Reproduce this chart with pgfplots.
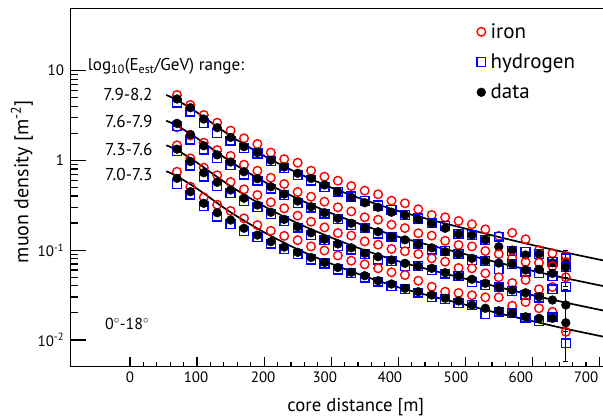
\documentclass[border=0pt]{standalone}
\usepackage{pgfplots}
\usepackage{pgfplotstable}
\pgfplotsset{compat=1.18}
\usepackage{fontspec}
\setmainfont{PT Sans}
\definecolor{rootred}{RGB}{255,0,0}
\definecolor{rootblue}{RGB}{0,0,255}

% r: core distance [m]; fe: iron; h: hydrogen; d: data; ed: data error
\pgfplotstableread{
r fe h d ed
70 5.34 4.38 4.82 0
90 4.13 3.48 3.85 0
110 3.20 2.58 2.88 0
130 2.62 2.00 2.31 0
150 2.14 1.65 1.80 0
170 1.76 1.36 1.42 0
190 1.52 1.19 1.22 0
210 1.22 0.975 1.00 0
230 1.03 0.815 0.842 0
250 0.940 0.681 0.717 0
270 0.766 0.596 0.627 0
290 0.657 0.504 0.531 0
310 0.593 0.447 0.449 0
330 0.517 0.395 0.387 0
350 0.459 0.352 0.337 0
370 0.418 0.314 0.300 0
390 0.355 0.280 0.264 0
410 0.332 0.246 0.246 0
430 0.285 0.225 0.220 0
450 0.246 0.199 0.199 0
470 0.232 0.186 0.175 0
490 0.211 0.151 0.151 0
510 0.194 0.147 0.147 0
530 0.170 0.130 0.130 0
550 0.144 0.141 0.109 0
570 0.156 0.0977 0.100 0
590 0.132 0.0960 0.0882 0
610 0.100 0.0905 0.0905 0
630 0.0921 0.0743 0.0724 0
650 0.0860 0.0810 0.0743 0.025
}\gA
\pgfplotstableread{
r fe h d ed
70 2.33 2.39 2.58 0
90 1.89 1.70 1.94 0
110 1.57 1.31 1.45 0
130 1.30 1.06 1.15 0
150 1.12 0.886 0.957 0
170 0.893 0.691 0.746 0
190 0.766 0.593 0.624 0
210 0.639 0.482 0.507 0
230 0.545 0.411 0.421 0
250 0.444 0.335 0.352 0
270 0.393 0.297 0.304 0
290 0.346 0.254 0.261 0
310 0.300 0.220 0.226 0
330 0.270 0.189 0.199 0
350 0.232 0.175 0.175 0
370 0.218 0.152 0.160 0
390 0.192 0.141 0.141 0
410 0.176 0.120 0.130 0
430 0.154 0.116 0.116 0
450 0.145 0.101 0.106 0
470 0.127 0.0985 0.0960 0
490 0.114 0.0905 0.0905 0
510 0.110 0.0770 0.0810 0
530 0.0977 0.0756 0.0756 0
550 0.0905 0.0616 0.0718 0
570 0.0817 0.0700 0.0700 0
590 0.0737 0.0575 0.0600 0
610 0.0724 0.0551 0.0611 0
630 0.0665 0.0515 0.0551 0
650 0.0737 0.0644 0.0644 0.025
}\gB
\pgfplotstableread{
r fe h d ed
70 1.47 1.26 1.33 0
90 1.05 0.875 0.970 0
110 0.827 0.657 0.728 0
130 0.681 0.513 0.569 0
150 0.573 0.432 0.467 0
170 0.475 0.350 0.378 0
190 0.411 0.302 0.318 0
210 0.341 0.250 0.264 0
230 0.292 0.209 0.220 0
250 0.242 0.178 0.182 0
270 0.207 0.148 0.156 0
290 0.179 0.129 0.132 0
310 0.155 0.111 0.117 0
330 0.145 0.101 0.106 0
350 0.125 0.0898 0.0921 0
370 0.115 0.0782 0.0844 0
390 0.103 0.0756 0.0776 0
410 0.0970 0.0660 0.0713 0
430 0.0905 0.0665 0.0665 0
450 0.0810 0.0596 0.0627 0
470 0.0743 0.0546 0.0560 0
490 0.0632 0.0515 0.0515 0
510 0.0627 0.0438 0.0473 0
530 0.0551 0.0406 0.0427 0
550 0.0498 0.0385 0.0385 0
570 0.0430 0.0350 0.0359 0
590 0.0465 0.0319 0.0335 0
610 0.0366 0.0295 0.0303 0
630 0.0388 0.0366 0.0278 0
650 0.0498 0.0391 0.0245 0.012
}\gC
\pgfplotstableread{
r fe h d ed
70 0.746 0.547 0.630 0
90 0.508 0.414 0.447 0
110 0.387 0.308 0.332 0
130 0.320 0.235 0.261 0
150 0.273 0.195 0.216 0
170 0.226 0.162 0.175 0
190 0.190 0.140 0.147 0
210 0.164 0.118 0.124 0
230 0.144 0.103 0.108 0
250 0.129 0.0898 0.0945 0
270 0.110 0.0786 0.0827 0
290 0.0990 0.0709 0.0728 0
310 0.0871 0.0608 0.0640 0
330 0.0762 0.0551 0.0566 0
350 0.0695 0.0493 0.0519 0
370 0.0627 0.0445 0.0456 0
390 0.0566 0.0398 0.0419 0
410 0.0528 0.0366 0.0375 0
430 0.0456 0.0335 0.0344 0
450 0.0391 0.0300 0.0316 0
470 0.0344 0.0283 0.0291 0
490 0.0333 0.0258 0.0271 0
510 0.0314 0.0245 0.0245 0
530 0.0298 0.0193 0.0225 0
550 0.0298 0.0206 0.0211 0
570 0.0240 0.0198 0.0198 0
590 0.0264 0.0177 0.0181 0
610 0.0225 0.0161 0.0174 0
630 0.0205 0.0179 0.0174 0
650 0.0123 0.00917 0.0155 0.0098
}\gD
% fit lines
\pgfplotstableread{
r l1 l2 l3 l4
54 5.34 2.76 1.47 0.756
70 4.69 2.43 1.30 0.665
100 3.41 1.76 0.941 0.483
150 1.87 0.965 0.515 0.264
200 1.12 0.578 0.308 0.158
250 0.722 0.374 0.199 0.102
300 0.498 0.258 0.138 0.0706
350 0.361 0.187 0.0997 0.0512
400 0.273 0.141 0.0752 0.0386
450 0.216 0.112 0.0597 0.0306
500 0.174 0.0900 0.0480 0.0247
550 0.140 0.0724 0.0387 0.0198
600 0.114 0.0590 0.0315 0.0162
650 0.094 0.0486 0.0260 0.0133
700 0.0784 0.0406 0.0217 0.0111
712 0.0752 0.0389 0.0208 0.0106
}\fits

\pgfplotsset{
  fe/.style={only marks, mark=o, mark size=4.3pt, mark options={draw=rootred, line width=1.4pt}},
  hy/.style={only marks, mark=square, mark size=4.4pt, mark options={draw=rootblue, line width=1.4pt}},
  dat/.style={only marks, mark=*, mark size=4.4pt, black,
     error bars/y dir=both, error bars/y explicit,
     error bars/error bar style={line width=1.2pt, black},
     error bars/error mark options={rotate=90, mark size=2.5pt, line width=1pt}},
  fit/.style={no marks, smooth, black, line width=1.7pt, forget plot},
}

\begin{document}
\begin{tikzpicture}
\path[use as bounding box] (-70.7pt,-49.3pt) rectangle (532.3pt,366.7pt);
\begin{axis}[
  at={(0pt,0pt)}, anchor=south west,
  scale only axis, width=535pt, height=358.4pt,
  xmin=-88.5, xmax=709.5,
  ymode=log, ymin=0.00503, ymax=49.3,
  axis line style={line width=1.5pt},
  xtick={0,100,...,700},
  xticklabels={0,{\kern-2pt 100},{\kern-2pt 200},{\kern-12.8pt 300},{\kern-16.6pt 400},{\kern-18.6pt 500},{\kern-22.8pt 600},{\kern-26.6pt 700}},
  minor x tick num=4,
  ytick={0.01,0.1,1,10},
  yticklabels={10\textsuperscript{-2},10\textsuperscript{-1},1,10},
  xtick pos=bottom, ytick pos=left,
  tick align=inside,
  major tick length=15pt, minor tick length=7.5pt,
  xtick style={/pgfplots/major tick length=10pt,/pgfplots/minor tick length=5pt},
  tick style={line width=1.2pt, black},
  xticklabel style={font=\fontsize{15}{15}\selectfont, anchor=north, inner sep=0pt, yshift=-5pt},
  yticklabel style={font=\fontsize{15}{15}\selectfont, anchor=east, inner sep=0pt, xshift=-6.5pt},
  legend style={at={(0.7533,0.969)}, anchor=north west, draw=none, fill=none,
     font=\fontsize{21}{24}\selectfont, row sep=10pt,
     /tikz/every odd column/.append style={column sep=2.9pt}},
  legend cell align=left,
]
\addplot[fe] table[x=r,y=fe]{\gA};
\addlegendentry{iron}
\addplot[hy] table[x=r,y=h]{\gA};
\addlegendentry{hydrogen}
\addplot[dat] table[x=r,y=d,y error=ed]{\gA};
\addlegendentry{data}
\addplot[forget plot,fe] table[x=r,y=fe]{\gB};
\addplot[forget plot,hy] table[x=r,y=h]{\gB};
\addplot[forget plot,dat] table[x=r,y=d,y error=ed]{\gB};
\addplot[forget plot,fe] table[x=r,y=fe]{\gC};
\addplot[forget plot,hy] table[x=r,y=h]{\gC};
\addplot[forget plot,dat] table[x=r,y=d,y error=ed]{\gC};
\addplot[forget plot,fe] table[x=r,y=fe]{\gD};
\addplot[forget plot,hy] table[x=r,y=h]{\gD};
\addplot[forget plot,dat] table[x=r,y=d,y error=ed]{\gD};
\addplot[fit] table[x=r,y=l1]{\fits};
\addplot[fit] table[x=r,y=l2]{\fits};
\addplot[fit] table[x=r,y=l3]{\fits};
\addplot[fit] table[x=r,y=l4]{\fits};
\end{axis}
\node[anchor=base, rotate=90, font=\fontsize{20}{22}\selectfont] at (-42.2pt,185pt) {muon density [m\textsuperscript{-2}]};
\node[anchor=base, font=\fontsize{18.7}{20}\selectfont] at (285.1pt,-45pt) {core distance [m]};
\node[anchor=base west, inner sep=0pt, font=\fontsize{17.1}{19}\selectfont] at (17pt,296pt) {log\textsubscript{10}(E\textsubscript{est}/GeV) range:};
\node[anchor=base east, inner sep=0pt, font=\fontsize{17.2}{19}\selectfont] at (82pt,266.7pt) {7.9-8.2};
\node[anchor=base east, inner sep=0pt, font=\fontsize{17.2}{19}\selectfont] at (82pt,239pt) {7.6-7.9};
\node[anchor=base east, inner sep=0pt, font=\fontsize{17.2}{19}\selectfont] at (82pt,211.7pt) {7.3-7.6};
\node[anchor=base east, inner sep=0pt, font=\fontsize{17.2}{19}\selectfont] at (82pt,186pt) {7.0-7.3};
\node[anchor=base west, inner sep=0pt, font=\fontsize{16}{18}\selectfont] at (34.3pt,37.4pt) {0$^\circ$-18$^\circ$};
\end{tikzpicture}
\end{document}
